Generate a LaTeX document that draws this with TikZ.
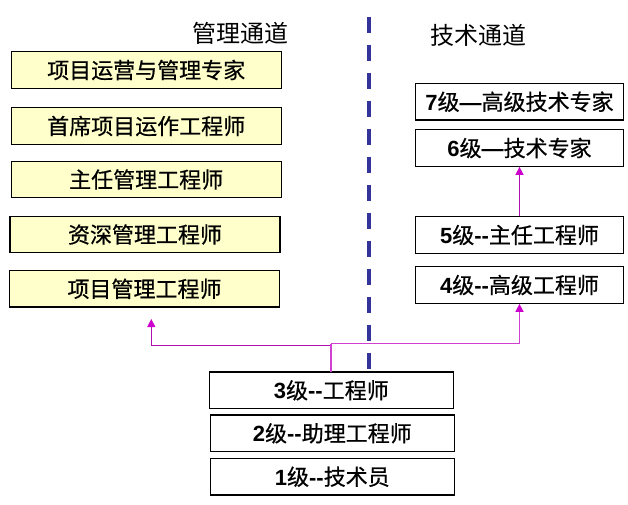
\documentclass[tikz,border=0pt]{standalone}
\usepackage{fontspec}
\setmainfont{Liberation Sans}
\newfontfamily\cjk[FakeBold=0.6]{Noto Sans CJK SC}
\newfontfamily\cjktitle{Noto Sans CJK SC}
\usetikzlibrary{arrows.meta}
\definecolor{lyellow}{RGB}{255,255,204}
\definecolor{dashblue}{RGB}{51,51,153}
\definecolor{magA}{RGB}{176,16,176}
\definecolor{magB}{RGB}{208,64,208}
\definecolor{magTip}{RGB}{204,0,204}
\tikzset{
  basebox/.style={draw=black,line width=1.2pt,rectangle,inner sep=0pt,minimum height=36.5pt,font=\fontsize{22}{26}\selectfont},
  lbox/.style={basebox,fill=lyellow,minimum width=270pt},
  rbox/.style={basebox,fill=white,minimum width=207.6pt},
  bbox/.style={basebox,fill=white,minimum width=244pt},
  title/.style={inner sep=0pt,font=\fontsize{24}{28}\selectfont\cjktitle},
  tip/.style={-{Triangle[width=8pt,length=8pt,color=magTip]}},
}
\newcommand{\bn}[1]{{\bfseries #1}}
\newcommand{\cj}[1]{{\cjk #1}}
\begin{document}
\begin{tikzpicture}[x=1pt,y=-1pt]
\useasboundingbox (0,0) rectangle (628,504);
% titles
\node[title] (tm) at (240,33) {管理通道};
\node[title] (tt) at (478,35) {技术通道};
% dashed divider
\coordinate (dtop) at (369.3,16.7);
\coordinate (dbot) at (369.3,369);
\draw[dashblue,line width=4pt,dash pattern=on 16pt off 12pt] (dtop) -- (dbot);
% management boxes
\node[lbox] (m1) at (146.2,70)   {\cj{项目运营与管理专家}};
\node[lbox] (m2) at (146.2,126)  {\cj{首席项目运作工程师}};
\node[lbox] (m3) at (146.2,179.5){\cj{主任管理工程师}};
\node[lbox] (m4) at (145,234.5)  {\cj{资深管理工程师}};
\node[lbox] (m5) at (144.5,288.8){\cj{项目管理工程师}};
% technical boxes
\node[rbox] (t7) at (519.5,101.7) {\bn{7}\cj{级}\bn{—}\cj{高级技术专家}};
\node[rbox] (t6) at (519.5,148)   {\bn{6}\cj{级}\bn{—}\cj{技术专家}};
\node[rbox] (t5) at (519.5,235)   {\bn{5}\cj{级}\bn{-{}-}\cj{主任工程师}};
\node[rbox] (t4) at (519.5,285)   {\bn{4}\cj{级}\bn{-{}-}\cj{高级工程师}};
% bottom boxes
\node[bbox] (b3) at (331.3,390.3) {\bn{3}\cj{级}\bn{-{}-}\cj{工程师}};
\node[bbox] (b2) at (332.3,433.3) {\bn{2}\cj{级}\bn{-{}-}\cj{助理工程师}};
\node[bbox] (b1) at (332.3,476.7) {\bn{1}\cj{级}\bn{-{}-}\cj{技术员}};
% connectors
\coordinate (jL) at (331,345.3);
\coordinate (jR) at (331,343.5);
\coordinate (aL) at (151.3,319);
\coordinate (b3top) at (331,372.3);
\draw[magB,line width=1.5pt,tip] (jR) -| (t4.south);
\draw[magA,line width=1.3pt,tip] (b3top) -- (jL) -| (aL);
\draw[magB,line width=1.5pt] (b3top) -- (jR);
\draw[magA,line width=1.3pt,tip] (t5.north) -- (t6.south);
\end{tikzpicture}
\end{document}
